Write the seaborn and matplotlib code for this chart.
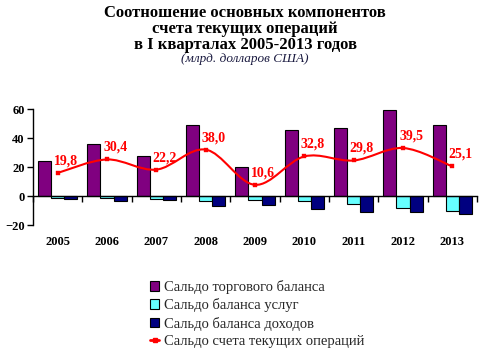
import numpy as np
import pandas as pd
import matplotlib
matplotlib.use('Agg')
import matplotlib.pyplot as plt
import seaborn as sns
from matplotlib.path import Path
from matplotlib.patches import PathPatch, Patch
from matplotlib.lines import Line2D

years = ['2005', '2006', '2007', '2008', '2009', '2010', '2011', '2012', '2013']
trade = [24.1, 36.1, 27.7, 49.1, 20.2, 45.4, 47.0, 59.0, 49.1]
services = [-1.4, -1.2, -2.1, -3.2, -3.0, -3.7, -5.5, -8.2, -10.5]
income = [-1.8, -3.7, -2.5, -6.8, -6.1, -8.7, -11.2, -10.9, -12.5]
current = [15.9, 25.2, 18.2, 32.0, 7.7, 27.3, 24.5, 33.1, 20.4]
current_labels = ['19,8', '30,4', '22,2', '38,0', '10,6', '32,8', '29,8', '39,5', '25,1']
series_names = ['Сальдо торгового баланса', 'Сальдо баланса услуг',
                'Сальдо баланса доходов', 'Сальдо счета текущих операций']
colors = ['#800080', '#66FFFF', '#000080', '#FF0000']

sns.set_theme(style='white')
plt.rcParams['font.family'] = ['Liberation Serif', 'DejaVu Serif']

fig = plt.figure(figsize=(4.9, 3.5), dpi=100)
ax = fig.add_axes([33 / 490, 1 - 225 / 350, 444 / 490, 116 / 350])

df = pd.DataFrame({
    'year': years * 3,
    'value': trade + services + income,
    'series': [n for n in series_names[:3] for _ in years],
})
sns.barplot(data=df, x='year', y='value', hue='series', hue_order=series_names[:3],
            palette=colors[:3], edgecolor='black', linewidth=0.8, width=0.8,
            ax=ax, legend=False, saturation=1)

# smooth line through points (Catmull-Rom -> Bezier)
xs = np.arange(len(years), dtype=float)
ys = np.array(current, dtype=float)
P = np.column_stack([xs, ys])
Pe = np.vstack([P[0], P, P[-1]])
verts = [tuple(P[0])]
codes = [Path.MOVETO]
for i in range(len(P) - 1):
    p0, p1, p2, p3 = Pe[i], Pe[i + 1], Pe[i + 2], Pe[i + 3]
    c1 = p1 + (p2 - p0) / 6.0
    c2 = p2 - (p3 - p1) / 6.0
    verts += [tuple(c1), tuple(c2), tuple(p2)]
    codes += [Path.CURVE4] * 3
ax.add_patch(PathPatch(Path(verts, codes), facecolor='none', edgecolor=colors[3], lw=1.5, zorder=4))
sns.scatterplot(x=xs, y=ys, marker='s', s=11, color=colors[3], edgecolor=colors[3], ax=ax, zorder=5)

for x, y, lab in zip(xs, ys, current_labels):
    ax.annotate(lab, (x, y), xytext=(-4, 12), textcoords='offset pixels', ha='left', va='center',
                color=colors[3], fontsize=10, fontweight='bold', zorder=6)

ax.set_xlim(-0.5, len(years) - 0.5)
ax.set_ylim(-20, 60)
ax.set_yticks([-20, 0, 20, 40, 60])
ax.set_xlabel('')
ax.set_ylabel('')
for s in ['top', 'right']:
    ax.spines[s].set_visible(False)
ax.spines['bottom'].set_position(('data', 0))
for s in ['left', 'bottom']:
    ax.spines[s].set_color('black')
    ax.spines[s].set_linewidth(1.0)
ax.set_xticks(xs)
ax.set_xticks(np.arange(-0.5, len(years), 1.0), minor=True)
ax.tick_params(axis='x', which='major', length=0, pad=29, labelsize=9)
ax.tick_params(axis='x', which='minor', bottom=True, length=4, width=1, color='black', direction='out')
ax.tick_params(axis='y', left=True, length=4, width=1, color='black', direction='out', labelsize=9, pad=2)
for t in ax.get_xticklabels() + ax.get_yticklabels():
    t.set_fontweight('bold')
    t.set_color('black')

# titles
fig.text(0.5, 1 - 13 / 350, 'Соотношение основных компонентов', ha='center', va='center',
         fontsize=12, fontweight='bold', color='black')
fig.text(0.5, 1 - 29 / 350, 'счета текущих операций', ha='center', va='center',
         fontsize=12, fontweight='bold', color='black')
fig.text(0.5, 1 - 45 / 350, 'в I кварталах 2005-2013 годов', ha='center', va='center',
         fontsize=12, fontweight='bold', color='black')
fig.text(0.5, 1 - 59 / 350, '(млрд. долларов США)', ha='center', va='center',
         fontsize=9.5, fontstyle='italic', color='#1a1a40')

handles = [Patch(facecolor=c, edgecolor='black', linewidth=0.8) for c in colors[:3]]
handles.append(Line2D([], [], color=colors[3], lw=2, marker='s', markersize=3))
fig.legend(handles, series_names, loc='upper left', bbox_to_anchor=(150 / 490, 1 - 280 / 350),
           frameon=False, fontsize=10.5, handlelength=0.65, handleheight=0.65, handletextpad=0.3,
           labelspacing=0.3, borderaxespad=0, borderpad=0)

fig.savefig('out.png', dpi=100)
